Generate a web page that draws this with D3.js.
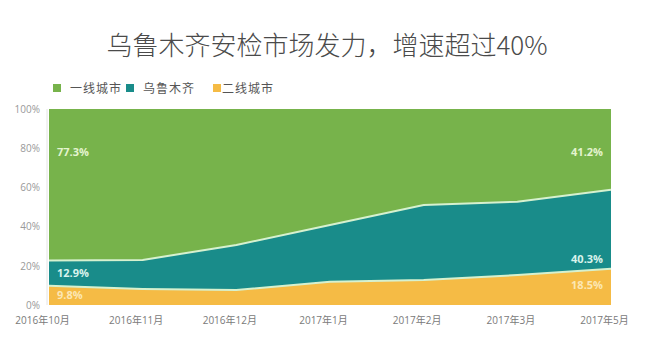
<!DOCTYPE html>
<html>
<head>
<meta charset="utf-8">
<script src="https://cdn.jsdelivr.net/npm/d3@7"></script>
<style>
  body { margin: 0; background: #fff; }
  text { font-family: "Open Sans", "Noto Sans CJK SC", sans-serif; }
</style>
</head>
<body>
<div id="chart"></div>
<script>
// months on the x axis
const months = ["2016年10月", "2016年11月", "2016年12月", "2017年1月", "2017年2月", "2017年3月", "2017年5月"];
// share of each group, in percent
const tier2 = [9.8, 8.2, 7.6, 11.9, 12.7, 15.3, 18.5];
const urumqi = [12.9, 14.8, 23.0, 28.9, 38.3, 37.4, 40.3];
const tier1 = [77.3, 77.0, 69.4, 59.2, 49.0, 47.3, 41.2];
const yTicks = [0, 20, 40, 60, 80, 100];

const seriesNames = ["二线城市", "乌鲁木齐", "一线城市"];
const colors = { "一线城市": "#77b34b", "乌鲁木齐": "#198c8a", "二线城市": "#f5bb45" };
const labelColors = { "一线城市": "#e4f4cf", "乌鲁木齐": "#d9f3ec", "二线城市": "#fce7b4" };

const width = 648, height = 363;
const margin = { top: 109, right: 37, bottom: 58, left: 49 };
const innerW = width - margin.left - margin.right;
const innerH = height - margin.top - margin.bottom;

const rows = months.map((m, i) => ({ month: m, "二线城市": tier2[i], "乌鲁木齐": urumqi[i], "一线城市": tier1[i] }));

const svg = d3.select('#chart')
  .append('svg')
  .attr('width', width)
  .attr('height', height);

// title
svg.append('text')
  .attr('x', 327)
  .attr('y', 55)
  .attr('text-anchor', 'middle')
  .style('font-family', '"Noto Sans CJK SC", sans-serif')
  .style('font-weight', 300)
  .style('font-size', '26px')
  .style('fill', '#4a4a4a')
  .text('乌鲁木齐安检市场发力，增速超过40%');

// legend
const legendOrder = ["一线城市", "乌鲁木齐", "二线城市"];
const legendX = [53, 126, 213];
const legend = svg.append('g');
legendOrder.forEach((name, i) => {
  legend.append('rect')
    .attr('x', legendX[i])
    .attr('y', 84)
    .attr('width', 8)
    .attr('height', 8)
    .attr('fill', colors[name]);
  legend.append('text')
    .attr('x', legendX[i] + (i === 2 ? 9 : 17))
    .attr('y', 93)
    .style('font-family', '"Noto Sans CJK SC", sans-serif')
    .style('font-size', '12px')
    .style('letter-spacing', '1px')
    .style('fill', '#555')
    .text(name);
});

const g = svg.append('g')
  .attr('transform', `translate(${margin.left},${margin.top})`);

const x = d3.scalePoint()
  .domain(months)
  .range([0, innerW]);

const y = d3.scaleLinear()
  .domain([0, 100])
  .range([innerH, 0]);

const stack = d3.stack().keys(seriesNames);
const layers = stack(rows);

const area = d3.area()
  .x(d => x(d.data.month))
  .y0(d => y(d[0]))
  .y1(d => y(d[1]));

g.selectAll('.layer')
  .data(layers)
  .enter().append('path')
  .attr('class', 'layer')
  .attr('fill', d => colors[d.key])
  .attr('d', area);

// light boundary lines between bands
const edge = d3.line()
  .x(d => x(d.data.month))
  .y(d => y(d[1]));

g.selectAll('.edge')
  .data(layers.slice(0, 2))
  .enter().append('path')
  .attr('class', 'edge')
  .attr('fill', 'none')
  .attr('stroke', '#d6f1cf')
  .attr('stroke-width', 2)
  .attr('d', edge);

// left axis line
g.append('line')
  .attr('x1', -2).attr('x2', -2)
  .attr('y1', 0).attr('y2', innerH)
  .attr('stroke', '#e4e4e4');

// y axis labels
const yAxis = g.append('g')
  .call(d3.axisLeft(y).tickValues(yTicks).tickSize(0).tickPadding(9).tickFormat(d => d + '%'));
yAxis.select('.domain').remove();
yAxis.selectAll('text')
  .style('font-size', '10px')
  .style('fill', '#999');

// x axis labels
const xAxis = g.append('g')
  .attr('transform', `translate(0,${innerH})`)
  .call(d3.axisBottom(x).tickSize(0).tickPadding(12));
xAxis.select('.domain').remove();
xAxis.selectAll('text')
  .attr('dx', -7)
  .style('font-size', '10px')
  .style('fill', '#7a7a7a');

// value labels at the first and last month
const first = 0, last = months.length - 1;
const labelStyle = sel => sel
  .style('font-size', '11px')
  .style('font-weight', 700);

layers.forEach(layer => {
  const name = layer.key;
  const a = layer[first], b = layer[last];
  let yFirst, yLast;
  if (name === "一线城市") {
    yFirst = y(76);
    yLast = y(76);
  } else if (name === "乌鲁木齐") {
    yFirst = y((a[0] + a[1]) / 2) + 4;
    yLast = y(b[0] + 5) + 4;
  } else {
    yFirst = y((a[0] + a[1]) / 2) + 4;
    yLast = y((b[0] + b[1]) / 2) + 2;
  }
  g.append('text')
    .attr('x', x(months[first]) + 8)
    .attr('y', yFirst)
    .style('fill', labelColors[name])
    .call(labelStyle)
    .text(a.data[name] + '%');
  g.append('text')
    .attr('x', x(months[last]) - 8)
    .attr('y', yLast)
    .attr('text-anchor', 'end')
    .style('fill', labelColors[name])
    .call(labelStyle)
    .text(b.data[name] + '%');
});
</script>
</body>
</html>
